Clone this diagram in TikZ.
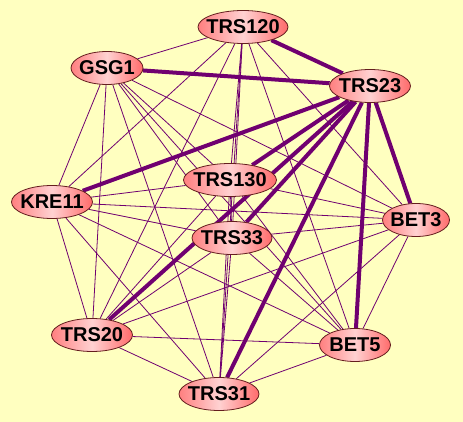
\documentclass[tikz,border=0pt]{standalone}
\usepackage{fontspec}
\setmainfont{Liberation Sans}
\usetikzlibrary{shapes.geometric}

\definecolor{paper}{RGB}{255,255,192}
\definecolor{linkcol}{RGB}{112,0,112}
\definecolor{rimcol}{RGB}{100,30,30}
\pgfdeclarelayer{paperlayer}
\pgfdeclarelayer{linklayer}
\pgfsetlayers{paperlayer,linklayer,main}

\begin{document}
\begin{tikzpicture}[
    x=1pt, y=-1pt,
    gene/.style={ellipse, draw=rimcol, line width=0.8pt, inner sep=0pt,
                 minimum height=33pt, text=black,
                 left color=red!50!white, right color=red!58!white,
                 middle color=red!18!white,
                 font=\fontsize{20}{24}\selectfont\bfseries},
    weak/.style={draw=linkcol, line width=0.8pt},
    strong/.style={draw=linkcol, line width=4pt}
]
\begin{pgfonlayer}{paperlayer}
\fill[paper] (0,0) rectangle (463,422);
\end{pgfonlayer}
\useasboundingbox (0,0) rectangle (463,422);

\node[gene, minimum width=90pt] (trs120) at (243,27) {\makebox[0pt]{TRS120}};
\node[gene, minimum width=72pt] (gsg1) at (107,68) {\makebox[0pt]{GSG1}};
\node[gene, minimum width=81pt] (trs23) at (370,86) {\makebox[0pt]{TRS23}};
\node[gene, minimum width=93pt] (trs130) at (230,180) {\makebox[0pt]{TRS130}};
\node[gene, minimum width=81pt] (kre11) at (52,202) {\makebox[0pt]{KRE11}};
\node[gene, minimum width=80pt] (trs33) at (232,238) {\makebox[0pt]{TRS33}};
\node[gene, minimum width=67pt] (bet3) at (416,220) {\makebox[0pt]{BET3}};
\node[gene, minimum width=81pt] (trs20) at (92,335) {\makebox[0pt]{TRS20}};
\node[gene, minimum width=71pt] (bet5) at (355,345) {\makebox[0pt]{BET5}};
\node[gene, minimum width=80pt] (trs31) at (219,394) {\makebox[0pt]{TRS31}};

\begin{pgfonlayer}{linklayer}
% every pair of the other nine
\foreach \a [count=\i] in {trs120,gsg1,trs130,kre11,trs33,bet3,trs20,bet5,trs31}
  \foreach \b [count=\j] in {trs120,gsg1,trs130,kre11,trs33,bet3,trs20,bet5,trs31}
    {\ifnum\j>\i \draw[weak] (\a) -- (\b); \fi}
% TRS23 to all
\foreach \b in {trs120,gsg1,trs130,kre11,trs33,bet3,trs20,bet5,trs31}
  \draw[strong] (trs23) -- (\b);
\end{pgfonlayer}
\end{tikzpicture}
\end{document}
